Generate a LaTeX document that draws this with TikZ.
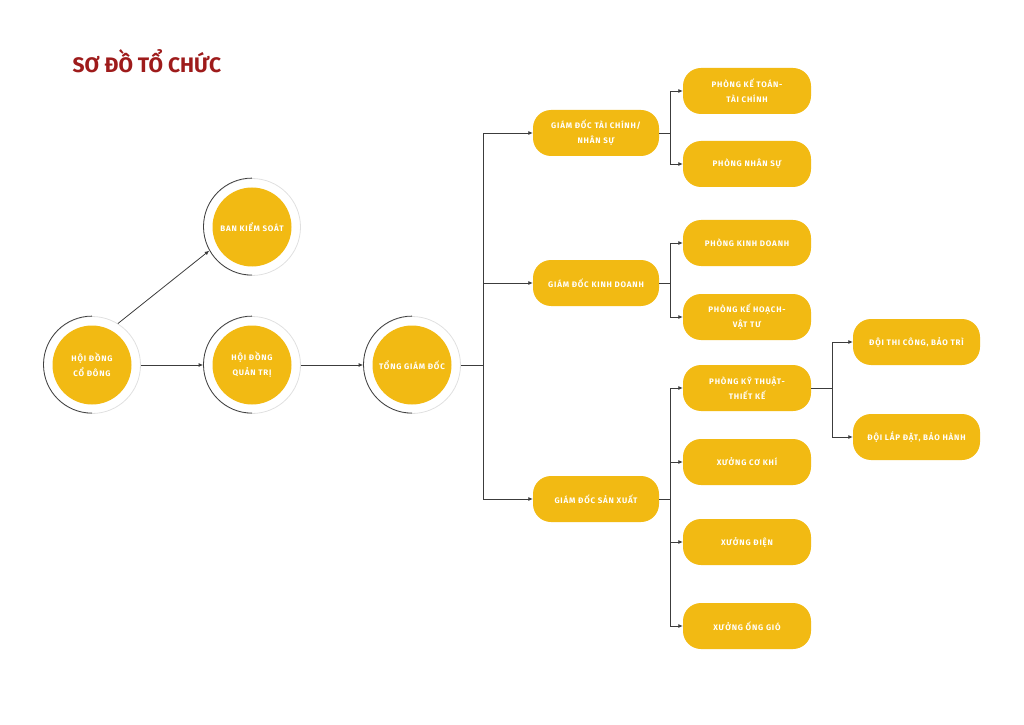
\documentclass[tikz,border=0pt]{standalone}
\usepackage{fontspec}
\setmainfont{Fira Sans}
\newfontfamily\chuthua[LetterSpace=10]{Fira Sans}
\usetikzlibrary{arrows.meta}
\definecolor{vang}{HTML}{F2BA13}
\definecolor{dodam}{HTML}{9E1B1B}
\definecolor{duong}{HTML}{3C3C3C}

\begin{document}
\begin{tikzpicture}[x=1pt,y=1pt,>={Latex[length=4.5pt,width=4pt]},
  vong/.style={shape=circle,draw=black!12,line width=0.8pt,minimum size=97pt,inner sep=0pt,
    text=white,font=\chuthua\bfseries\fontsize{8}{15}\selectfont,align=center,
    path picture={\fill[vang] (path picture bounding box.center) circle (39.5pt);}},
  vongtoi/.style={draw=black!75,line width=0.8pt},
  hop/.style={shape=rectangle,rounded corners=18pt,fill=vang,minimum height=46pt,
    text=white,font=\chuthua\bfseries\fontsize{8}{15}\selectfont,align=center,inner sep=0pt},
  noi/.style={draw=duong,line width=0.8pt}]
\useasboundingbox (0,0) rectangle (1024,724);
\node (tieude) at (69,651) [anchor=base west,text=dodam,font=\bfseries\fontsize{21}{24}\selectfont] {SƠ ĐỒ TỔ CHỨC};
% hinh tron
\node (bks)  at (252,497) [vong] {BAN KIỂM SOÁT};
\node (hdcd) at (92,359)  [vong] {HỘI ĐỒNG\\CỔ ĐÔNG};
\node (hdqt) at (252,359) [vong] {HỘI ĐỒNG\\QUẢN TRỊ};
\node (tgd)  at (412,359) [vong] {TỔNG GIÁM ĐỐC};
\foreach \n in {bks,hdcd,hdqt,tgd}
  \draw [vongtoi] (\n.north) arc[start angle=90,end angle=270,radius=48.5pt];
% giam doc
\node (gdtc) at (596,591) [hop,minimum width=126pt] {GIÁM ĐỐC TÀI CHÍNH/\\NHÂN SỰ};
\node (gdkd) at (596,441) [hop,minimum width=126pt] {GIÁM ĐỐC KINH DOANH};
\node (gdsx) at (596,225) [hop,minimum width=126pt] {GIÁM ĐỐC SẢN XUẤT};
% phong ban
\node  (pkt) at (747,633) [hop,minimum width=128pt] {PHÒNG KẾ TOÁN-\\TÀI CHÍNH};
\node  (pns) at (747,560) [hop,minimum width=128pt] {PHÒNG NHÂN SỰ};
\node  (pkd) at (747,481) [hop,minimum width=128pt] {PHÒNG KINH DOANH};
\node  (pkh) at (747,407) [hop,minimum width=128pt] {PHÒNG KẾ HOẠCH-\\VẬT TƯ};
\node (pktk) at (747,336) [hop,minimum width=128pt] {PHÒNG KỸ THUẬT-\\THIẾT KẾ};
\node  (xck) at (747,262) [hop,minimum width=128pt] {XƯỞNG CƠ KHÍ};
\node   (xd) at (747,182) [hop,minimum width=128pt] {XƯỞNG ĐIỆN};
\node  (xog) at (747,98)  [hop,minimum width=128pt] {XƯỞNG ỐNG GIÓ};
\node  (dtc) at (916.5,382) [hop,minimum width=127pt] {ĐỘI THI CÔNG, BẢO TRÌ};
\node  (dld) at (916.5,287) [hop,minimum width=127pt] {ĐỘI LẮP ĐẶT, BẢO HÀNH};
% diem re nhanh
\coordinate (r0) at (483,359);
\coordinate (r1) at (670,591);
\coordinate (r2) at (670,441);
\coordinate (r3) at (670,225);
\coordinate (r4) at (832,336);
\draw [noi,->] (hdcd.58) -- (bks.209);
\draw [noi,->] (hdcd) -- (hdqt);
\draw [noi,->] (hdqt) -- (tgd);
\draw [noi] (tgd) -- (r0);
\draw [noi,->] (r0) |- (gdtc);
\draw [noi,->] (r0) |- (gdkd);
\draw [noi,->] (r0) |- (gdsx);
\draw [noi] (gdtc) -- (r1);
\draw [noi,->] (r1) |- (pkt);
\draw [noi,->] (r1) |- (pns);
\draw [noi] (gdkd) -- (r2);
\draw [noi,->] (r2) |- (pkd);
\draw [noi,->] (r2) |- (pkh);
\draw [noi] (gdsx) -- (r3);
\draw [noi,->] (r3) |- (pktk);
\draw [noi,->] (r3) |- (xck);
\draw [noi,->] (r3) |- (xd);
\draw [noi,->] (r3) |- (xog);
\draw [noi] (pktk) -- (r4);
\draw [noi,->] (r4) |- (dtc);
\draw [noi,->] (r4) |- (dld);
\end{tikzpicture}
\end{document}
